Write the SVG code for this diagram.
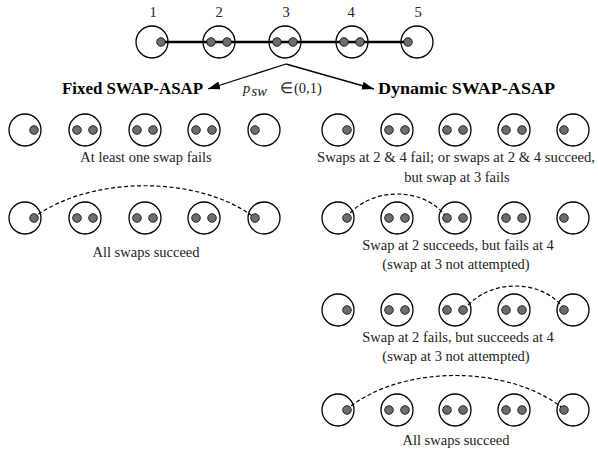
<svg xmlns="http://www.w3.org/2000/svg" width="598" height="451" viewBox="0 0 598 451">
<defs>
<style>
.c{fill:none;stroke:#000;stroke-width:1.3}
.d{fill:#6d6d6d;stroke:#000;stroke-width:0.8}
.t{font-family:"Liberation Serif","Times New Roman",serif;font-size:14.5px;fill:#222}
.b{font-family:"Liberation Serif","Times New Roman",serif;font-size:17px;font-weight:bold;fill:#000}
.dash{fill:none;stroke:#000;stroke-width:1.2;stroke-dasharray:4 2.5}
</style>
<marker id="ah" viewBox="0 0 12 8" refX="12" refY="4" markerWidth="12" markerHeight="8" markerUnits="userSpaceOnUse" orient="auto">
<path d="M0,0 L12,4 L0,8 Z" fill="#000"/>
</marker>
<g id="n1"><circle class="c" r="16"/><circle class="d" cx="9" r="4.3"/></g>
<g id="n2"><circle class="c" r="16"/><circle class="d" cx="-8" r="4.3"/><circle class="d" cx="8" r="4.3"/></g>
<g id="n5"><circle class="c" r="16"/><circle class="d" cx="-9" r="4.3"/></g>
</defs>
<rect width="598" height="451" fill="#fff"/>

<g id="connectors">
<line x1="161" y1="42" x2="409" y2="42" stroke="#000" stroke-width="2.5"/>
<line x1="286" y1="64" x2="208" y2="89" stroke="#000" stroke-width="1.3" marker-end="url(#ah)"/>
<line x1="286" y1="64" x2="374" y2="89" stroke="#000" stroke-width="1.3" marker-end="url(#ah)"/>
<path class="dash" d="M33,218 C90,175 200,175 255,218"/>
<path class="dash" d="M346,218 C370,186 425,186 447,218"/>
<path class="dash" d="M464,310 C488,278 543,278 565,310"/>
<path class="dash" d="M346,410 C400,364 510,364 565,410"/>
</g>

<g id="top-chain">
<use href="#n1" x="152" y="42"/>
<use href="#n2" x="219" y="42"/>
<use href="#n2" x="285" y="42"/>
<use href="#n2" x="352" y="42"/>
<use href="#n5" x="417" y="42"/>
<text class="t" x="153" y="17" text-anchor="middle">1</text>
<text class="t" x="219" y="17" text-anchor="middle">2</text>
<text class="t" x="286" y="17" text-anchor="middle">3</text>
<text class="t" x="351" y="17" text-anchor="middle">4</text>
<text class="t" x="418" y="17" text-anchor="middle">5</text>
</g>

<g id="labels">
<text class="b" x="62" y="94" textLength="141" lengthAdjust="spacingAndGlyphs">Fixed SWAP-ASAP</text>
<text class="b" x="378" y="94" textLength="177" lengthAdjust="spacingAndGlyphs">Dynamic SWAP-ASAP</text>
<text class="t" x="243" y="93" font-size="17" font-style="italic">p</text>
<text class="t" x="251.5" y="96" font-size="14" font-style="italic">sw</text>
<text class="t" x="280" y="93" font-size="16">∈</text>
<text class="t" x="294" y="93" font-size="17">(0,1)</text>
</g>

<g id="fixed-fail">
<use href="#n1" x="25" y="130"/>
<use href="#n2" x="85" y="130"/>
<use href="#n2" x="145" y="130"/>
<use href="#n2" x="204" y="130"/>
<use href="#n5" x="264" y="130"/>
<text class="t" x="146" y="162" text-anchor="middle">At least one swap fails</text>
</g>

<g id="fixed-success">
<use href="#n1" x="25" y="218"/>
<use href="#n2" x="85" y="218"/>
<use href="#n2" x="145" y="218"/>
<use href="#n2" x="204" y="218"/>
<use href="#n5" x="264" y="218"/>
<text class="t" x="146" y="257" text-anchor="middle">All swaps succeed</text>
</g>

<g id="dyn-fail">
<use href="#n1" x="338" y="130"/>
<use href="#n2" x="397" y="130"/>
<use href="#n2" x="455" y="130"/>
<use href="#n2" x="514" y="130"/>
<use href="#n5" x="573" y="130"/>
<text class="t" x="317" y="162" textLength="278" lengthAdjust="spacingAndGlyphs">Swaps at 2 &amp; 4 fail; or swaps at 2 &amp; 4 succeed,</text>
<text class="t" x="457" y="182" text-anchor="middle">but swap at 3 fails</text>
</g>

<g id="dyn-left">
<use href="#n1" x="338" y="218"/>
<use href="#n2" x="397" y="218"/>
<use href="#n2" x="455" y="218"/>
<use href="#n2" x="514" y="218"/>
<use href="#n5" x="573" y="218"/>
<text class="t" x="458" y="250" text-anchor="middle">Swap at 2 succeeds, but fails at 4</text>
<text class="t" x="456" y="269" text-anchor="middle">(swap at 3 not attempted)</text>
</g>

<g id="dyn-right">
<use href="#n1" x="338" y="310"/>
<use href="#n2" x="397" y="310"/>
<use href="#n2" x="455" y="310"/>
<use href="#n2" x="514" y="310"/>
<use href="#n5" x="573" y="310"/>
<text class="t" x="458" y="342" text-anchor="middle">Swap at 2 fails, but succeeds at 4</text>
<text class="t" x="456" y="361" text-anchor="middle">(swap at 3 not attempted)</text>
</g>

<g id="dyn-success">
<use href="#n1" x="338" y="410"/>
<use href="#n2" x="397" y="410"/>
<use href="#n2" x="455" y="410"/>
<use href="#n2" x="514" y="410"/>
<use href="#n5" x="573" y="410"/>
<text class="t" x="456" y="445" text-anchor="middle">All swaps succeed</text>
</g>
</svg>
